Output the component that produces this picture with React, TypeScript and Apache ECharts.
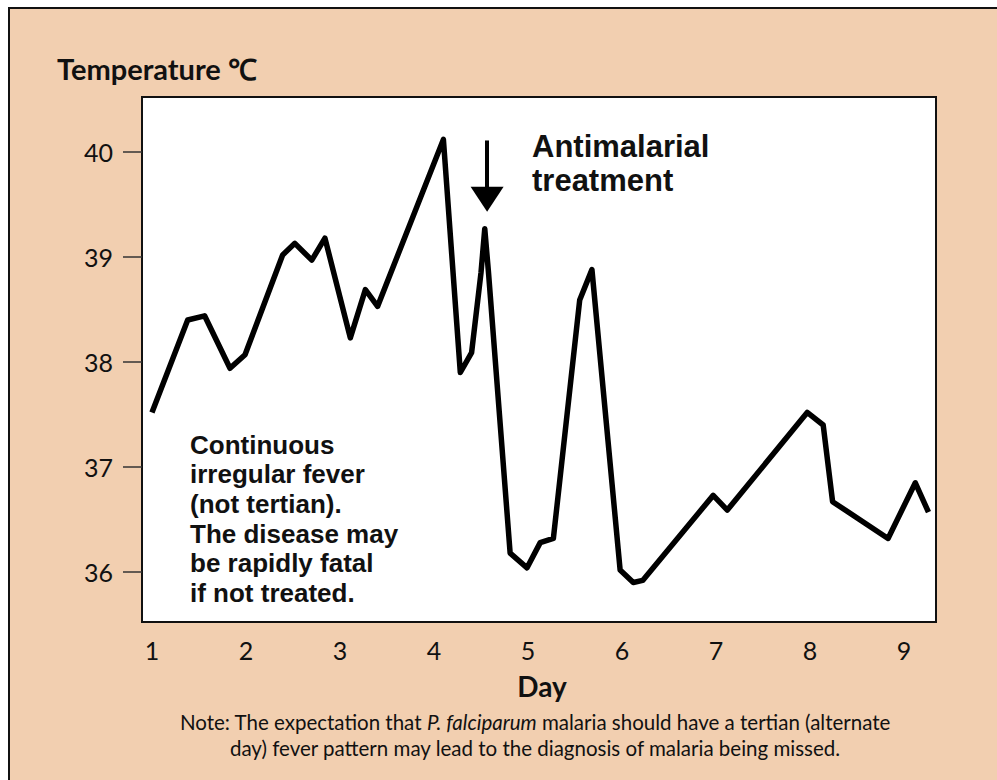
import React, { useEffect, useRef } from "react";
import * as echarts from "echarts";

// Day (x) and temperature °C (y)
const days = [1.0, 1.38, 1.56, 1.83, 1.99, 2.39, 2.52, 2.7, 2.84, 3.11, 3.27, 3.4, 4.1, 4.28, 4.4, 4.5, 4.54, 4.58, 4.81, 4.99, 5.13, 5.27, 5.55, 5.68, 5.98, 6.12, 6.22, 6.97, 7.12, 7.97, 8.14, 8.24, 8.83, 9.12, 9.26];
const temps = [37.52, 38.4, 38.44, 37.94, 38.07, 39.02, 39.13, 38.97, 39.18, 38.23, 38.69, 38.53, 40.12, 37.9, 38.09, 38.85, 39.27, 38.85, 36.18, 36.04, 36.28, 36.32, 38.59, 38.88, 36.02, 35.9, 35.92, 36.73, 36.59, 37.52, 37.4, 36.67, 36.32, 36.85, 36.57];

const xTicks = [1, 2, 3, 4, 5, 6, 7, 8, 9];
const yTicks = [36, 37, 38, 39, 40];

const treatmentDay = 4.565;
const arrowFrom = 40.11;
const arrowTo = 39.55;

const yAxisTitle = "Temperature ℃";
const xAxisTitle = "Day";
const treatmentText = "Antimalarial\ntreatment";
const feverText = "Continuous\nirregular fever\n(not tertian).\nThe disease may\nbe rapidly fatal\nif not treated.";

export default function App() {
  const ref = useRef<HTMLDivElement>(null);
  useEffect(() => {
    const chart = echarts.init(ref.current!, null, { renderer: "svg" });
    chart.setOption({
      animation: false,
      textStyle: { fontFamily: "Lato" },
      grid: {
        left: 142,
        top: 97,
        width: 794,
        height: 525,
        show: true,
        backgroundColor: "#ffffff",
        borderColor: "#111",
        borderWidth: 2,
        containLabel: false,
        outerBoundsMode: "none",
      },
      xAxis: {
        type: "value",
        min: 0.894,
        max: 9.34,
        axisLine: { show: false },
        axisTick: { show: false },
        splitLine: { show: false },
        axisLabel: {
          customValues: xTicks,
          fontSize: 25,
          color: "#111",
          margin: 28,
          verticalAlign: "middle",
          fontFamily: "Lato",
        },
      },
      yAxis: {
        type: "value",
        min: 35.524,
        max: 40.524,
        axisLine: { show: false },
        axisTick: { show: true, customValues: yTicks, length: 19, lineStyle: { color: "#333", width: 1.5 } },
        splitLine: { show: false },
        axisLabel: { customValues: yTicks, fontSize: 25, margin: 29, color: "#111", fontFamily: "Lato" },
      },
      series: [
        {
          type: "line",
          data: days.map((d, i) => [d, temps[i]]),
          symbol: "none",
          lineStyle: { color: "#000", width: 5.5, join: "round" },
          markLine: {
            silent: true,
            symbol: ["none", "triangle"],
            label: { show: false },
            lineStyle: { color: "#000", width: 4, type: "solid" },
            data: [
              [
                { coord: [treatmentDay, arrowFrom], symbol: "none" },
                { coord: [treatmentDay, arrowTo], symbol: "triangle", symbolSize: [33, 25] },
              ],
            ],
          },
        },
      ],
      graphic: [
        {
          type: "text",
          x: 57,
          y: 68,
          style: { text: yAxisTitle, fontSize: 29, fontWeight: "bold", fontFamily: "Lato", fill: "#111", align: "left", verticalAlign: "middle" },
        },
        {
          type: "text",
          x: 532,
          y: 129.5,
          z: 10,
          style: { text: treatmentText, fontSize: 31, fontWeight: "bold", fontFamily: "Liberation Sans", lineHeight: 34, fill: "#111", align: "left", verticalAlign: "top" },
        },
        {
          type: "text",
          x: 190,
          y: 430,
          z: 10,
          style: { text: feverText, fontSize: 26, fontWeight: "bold", fontFamily: "Liberation Sans", lineHeight: 29.6, fill: "#111", align: "left", verticalAlign: "top" },
        },
        {
          type: "text",
          x: 542,
          y: 686,
          style: { text: xAxisTitle, fontSize: 28, fontWeight: "bold", fontFamily: "Lato", fill: "#111", align: "center", verticalAlign: "middle" },
        },
        {
          type: "text",
          x: 535,
          y: 735,
          style: {
            text: "{a|Note: The expectation that }{b|P. falciparum}{a| malaria should have a tertian (alternate}\n{a|day) fever pattern may lead to the diagnosis of malaria being missed.}",
            rich: {
              a: { fontSize: 20.5, fontFamily: "Lato", fill: "#111", lineHeight: 26.5 },
              b: { fontSize: 20.5, fontFamily: "Lato", fontStyle: "italic", fill: "#111", lineHeight: 26.5 },
            },
            align: "center",
            verticalAlign: "middle",
          },
        },
      ],
    });
    return () => chart.dispose();
  }, []);
  return (
    <div style={{ position: "fixed", left: 0, top: 0, width: 997, height: 780, overflow: "hidden", background: "#fff" }}>
      <div style={{ position: "absolute", left: 8, top: 7, width: 1100, height: 900, background: "#F2CFB0", border: "2px solid #111", boxSizing: "border-box" }} />
      <div ref={ref} style={{ position: "absolute", left: 0, top: 0, width: 997, height: 780 }} />
    </div>
  );
}
